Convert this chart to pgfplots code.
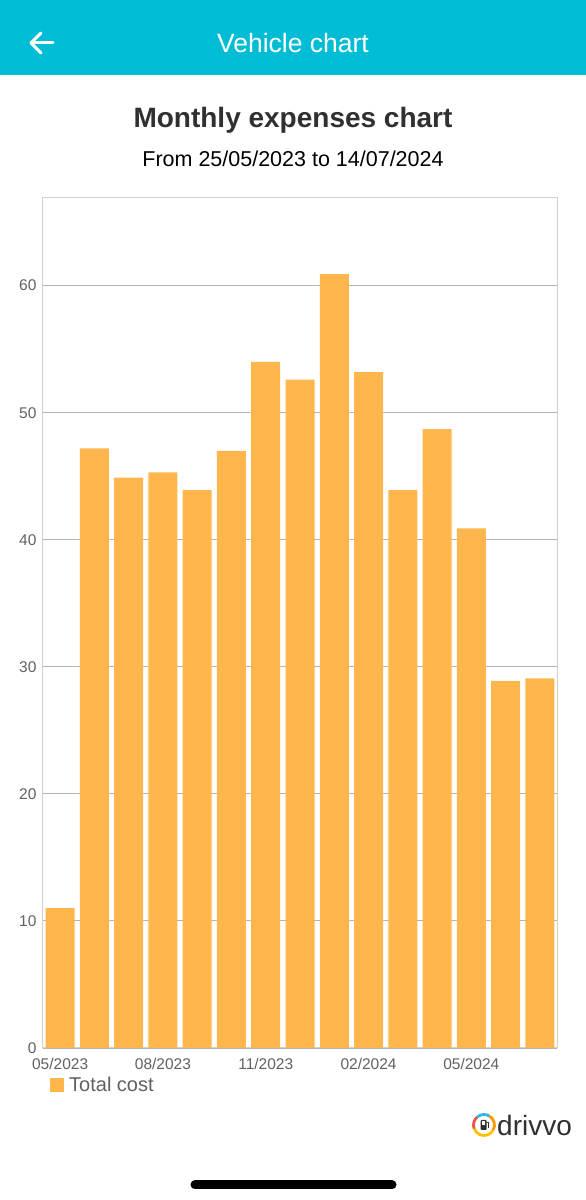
\documentclass[border=0pt]{standalone}
\usepackage{pgfplots}
\pgfplotsset{compat=1.18}
\usepackage{fontspec}
\setmainfont{Liberation Sans}
\definecolor{hdr}{HTML}{00BCD4}
\definecolor{barcol}{HTML}{FFB74D}
\definecolor{ticktxt}{HTML}{616161}
\definecolor{titletxt}{HTML}{303030}
\definecolor{gridc}{HTML}{B4B4B4}
\definecolor{framec}{HTML}{D0D0D0}
\pgfplotstableread{
x y
0 11.0
1 47.2
2 44.9
3 45.3
4 43.9
5 47.0
6 54.0
7 52.6
8 60.9
9 53.2
10 43.9
11 48.7
12 40.9
13 28.9
14 29.1
}\costs
\begin{document}
\begin{tikzpicture}
\fill[white] (0pt,0pt) rectangle (586pt,1200pt);
\path[use as bounding box] (0pt,0pt) rectangle (586pt,1200pt);
% header
\fill[hdr] (0pt,1125pt) rectangle (586pt,1200pt);
\draw[white, line width=3pt, line cap=round, line join=round] (31pt,1157pt) -- (53pt,1157pt);
\draw[white, line width=3pt, line cap=round, line join=round] (41pt,1167pt) -- (31pt,1157pt) -- (41pt,1147pt);
\node[white, font=\fontsize{26.5}{30}\selectfont] at (293pt,1157pt) {Vehicle chart};
% titles
\node[titletxt, font=\fontsize{28}{33}\selectfont\bfseries] at (293pt,1080pt) {Monthly expenses chart};
\node[black, font=\fontsize{21.5}{25}\selectfont] at (293pt,1041pt) {From 25/05/2023 to 14/07/2024};
\begin{axis}[
  at={(43pt,152pt)}, anchor=south west,
  scale only axis, width=514pt, height=850pt,
  xmin=-0.5, xmax=14.5, ymin=0, ymax=66.9,
  ybar, bar width=29pt, bar shift=0pt,
  xtick={0,3,6,9,12},
  xticklabels={05/2023,08/2023,11/2023,02/2024,05/2024},
  ytick={0,10,20,30,40,50,60},
  major tick length=0pt,
  ymajorgrids, grid style={gridc, line width=0.9pt},
  axis line style={framec, line width=1pt},
  tick label style={ticktxt, font=\fontsize{15.5}{18}\selectfont},
  /pgf/number format/assume math mode=true,
  xticklabel style={yshift=-7pt},
  yticklabel style={xshift=-3pt},
  legend style={at={(0,0)}, anchor=north west, xshift=4pt, yshift=-25pt, draw=none, fill=none,
    font=\fontsize{20}{23}\selectfont, text=ticktxt},
  legend image code/.code={\fill[barcol] (0pt,-7pt) rectangle (14pt,7pt); \path (0pt,0pt) -- (17pt,0pt);},
]
\addplot[fill=barcol, draw=none] table[x=x,y=y] {\costs};
\addlegendentry{Total cost}
\end{axis}
% logo
\begin{scope}[shift={(484pt,75pt)}]
\draw[line width=2.8pt, color={rgb,255:red,255;green,193;blue,7}] (0pt,0pt) ++(200:10.5pt) arc (200:330:10.5pt);
\draw[line width=2.8pt, color={rgb,255:red,239;green,83;blue,80}] (0pt,0pt) ++(130:10.5pt) arc (130:200:10.5pt);
\draw[line width=2.8pt, color={rgb,255:red,41;green,182;blue,246}] (0pt,0pt) ++(60:10.5pt) arc (60:130:10.5pt);
\draw[line width=2.8pt, color={rgb,255:red,255;green,152;blue,0}] (0pt,0pt) ++(-30:10.5pt) arc (-30:60:10.5pt);
\fill[titletxt, rounded corners=1pt] (-3.5pt,-5pt) rectangle (2.5pt,5pt);
\fill[white] (-2pt,0pt) rectangle (1pt,3.5pt);
\draw[titletxt, line width=1pt] (2.5pt,2pt) -- (4.5pt,2pt) -- (4.5pt,-3pt);
\end{scope}
\node[anchor=west, titletxt, font=\fontsize{28}{32}\selectfont, inner sep=0pt] at (497pt,75pt) {drivvo};
% home indicator
\draw[black, line width=9pt, line cap=round] (195pt,15pt) -- (392pt,15pt);
\end{tikzpicture}
\end{document}
